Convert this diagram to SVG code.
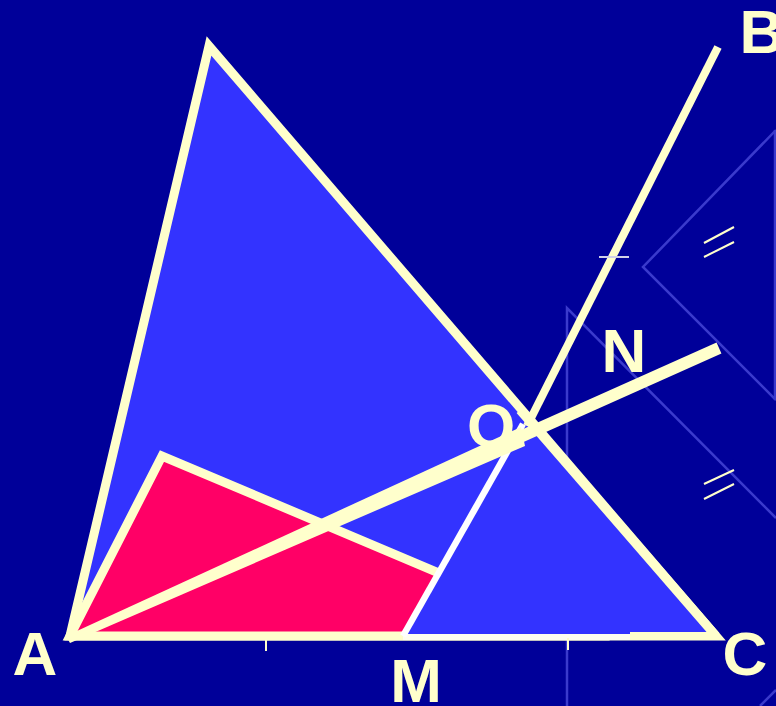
<svg xmlns="http://www.w3.org/2000/svg" width="776" height="706" viewBox="0 0 776 706">
<style>
.faint{fill:none;stroke:#3A3ACC;stroke-width:2.5}
.cream{stroke:#FFFFCC;fill:none}
.lbl{font-family:"Liberation Sans",Arial,sans-serif;font-weight:bold;font-size:62px;fill:#FFFFCC;text-anchor:middle}
.tick{stroke:#FFFFCC;stroke-width:2;fill:none}
</style>
<rect x="0" y="0" width="776" height="706" fill="#000099"/>
<g id="construction">
<polyline class="faint" points="776,130 643,267 776,400"/>
<line class="faint" x1="775" y1="130" x2="775" y2="400"/>
<polyline class="faint" points="776,518 567,308 567,706"/>
<line class="faint" x1="760" y1="706" x2="776" y2="690"/>
</g>
<g id="big-triangle">
<polygon points="209,46 70,636 716,636" fill="#3333FF" stroke="#FFFFCC" stroke-width="9" stroke-linejoin="miter" stroke-miterlimit="10"/>
</g>
<g id="red-triangle">
<polygon points="162,456 70,636 588,636" fill="#FF0066" stroke="#FFFFCC" stroke-width="9" stroke-linejoin="miter" stroke-miterlimit="10"/>
</g>
<g id="small-triangle">
<polygon points="403,636 524,424 534,424 716,636" fill="#3333FF"/>
<line class="cream" x1="520" y1="410" x2="716" y2="636" stroke-width="9"/>
<line x1="403" y1="637" x2="630" y2="637" stroke="#FFFFF0" stroke-width="6"/>
<line class="cream" x1="630" y1="636" x2="716" y2="636" stroke-width="8"/>
<line x1="403" y1="636" x2="523" y2="424" stroke="#FFFFFF" stroke-width="6.5"/>
</g>
<g id="connectors">
<polygon points="66,636 521,427 525,446 70,643" fill="#FFFFCC"/>
<line class="cream" x1="520" y1="437" x2="719" y2="348" stroke-width="12"/>
<line class="cream" x1="527" y1="426" x2="718" y2="47" stroke-width="8"/>
</g>
<g id="marks">
<line class="tick" x1="704" y1="243" x2="734" y2="227"/>
<line class="tick" x1="704" y1="257" x2="734" y2="242"/>
<line class="tick" x1="704" y1="484" x2="734" y2="470"/>
<line class="tick" x1="704" y1="499" x2="734" y2="484"/>
<line x1="599" y1="257" x2="629" y2="257" stroke="#D0D0E8" stroke-width="2"/>
<line class="tick" x1="266" y1="640" x2="266" y2="651"/>
<line class="tick" x1="568" y1="638" x2="568" y2="650"/>
</g>
<g id="labels">
<text class="lbl" x="35" y="675">A</text>
<text class="lbl" x="762" y="53">B</text>
<text class="lbl" x="745" y="675">C</text>
<text class="lbl" x="624" y="372">N</text>
<text class="lbl" x="491" y="447">O</text>
<text class="lbl" x="416" y="702">M</text>
</g>
</svg>
